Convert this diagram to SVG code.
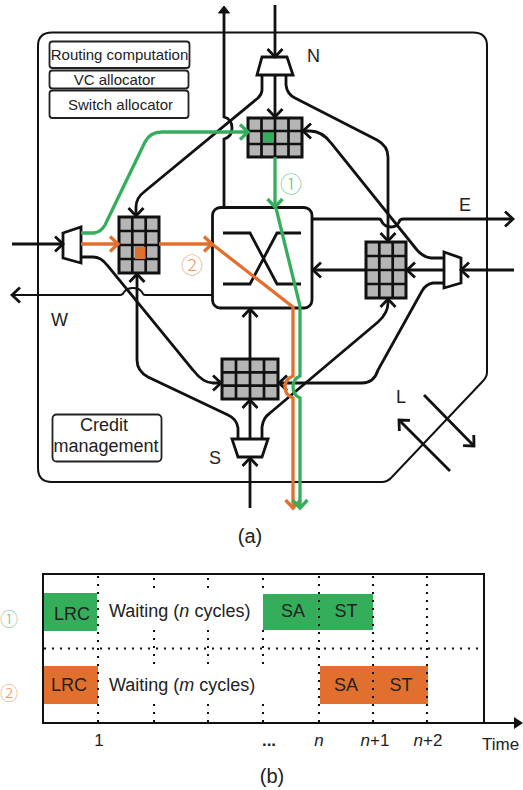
<svg xmlns="http://www.w3.org/2000/svg" width="523" height="790" viewBox="0 0 523 790">
<style>
text{font-family:"Liberation Sans",Arial,sans-serif;fill:#222}
.frame{fill:none;stroke:#111;stroke-width:2}
.box{fill:#fff;stroke:#222;stroke-width:1.8}
.grid{fill:#b5b5b5;stroke:#111;stroke-width:3}
.gl{fill:none;stroke:#111;stroke-width:2.7}
.mux{fill:#fff;stroke:#111;stroke-width:2.8;stroke-linejoin:miter}
.sw{fill:#fff;stroke:#111;stroke-width:2.8}
.k{fill:none;stroke:#111;stroke-width:2.8;marker-end:url(#ak)}
.p{fill:none;stroke:#111;stroke-width:2.8}
.g{fill:none;stroke:#35ae5c;stroke-width:3.3;marker-end:url(#ag)}
.o{fill:none;stroke:#e1702f;stroke-width:3.3;marker-end:url(#ao)}
.dot{fill:none;stroke:#111;stroke-width:2;stroke-dasharray:2 6}
.num{font-family:"Noto Sans CJK SC",sans-serif;font-size:22px;font-weight:300}
.num2{font-family:"Noto Sans CJK SC",sans-serif;font-size:18px;font-weight:300}
.lb{font-size:18px}
.t{font-size:15px}
.ax{font-size:17px}
</style>
<defs>
<marker id="ak" markerUnits="userSpaceOnUse" markerWidth="24" markerHeight="24" viewBox="-12 -12 24 24" refX="0" refY="0" orient="auto"><path d="M-8 -7.500L0 0L-8 7.500" fill="none" stroke="#111" stroke-width="2.800"/></marker>
<marker id="ag" markerUnits="userSpaceOnUse" markerWidth="24" markerHeight="24" viewBox="-12 -12 24 24" refX="0" refY="0" orient="auto"><path d="M-8 -7.500L0 0L-8 7.500" fill="none" stroke="#35ae5c" stroke-width="3.300"/></marker>
<marker id="ao" markerUnits="userSpaceOnUse" markerWidth="24" markerHeight="24" viewBox="-12 -12 24 24" refX="0" refY="0" orient="auto"><path d="M-8 -7.500L0 0L-8 7.500" fill="none" stroke="#e1702f" stroke-width="3.300"/></marker>
</defs>

<g id="router-frame"><path class="frame" d="M52 32.500H473Q487 32.500 487 46V372Q487 377 483 381L391 478Q387 482 382 482H52Q38 482 38 468V46Q38 32.500 52 32.500Z"/></g>
<g id="routing-computation"><rect class="box" x="49.500" y="41.500" width="140" height="26.500" rx="3"/><text class="t" x="119.500" y="60" text-anchor="middle">Routing computation</text></g>
<g id="vc-allocator"><rect class="box" x="49.500" y="70.500" width="139" height="18" rx="3"/><text class="t" x="114.500" y="85" text-anchor="middle">VC allocator</text></g>
<g id="switch-allocator"><rect class="box" x="49.500" y="90.500" width="139" height="27.500" rx="3"/><text class="t" x="120.500" y="110" text-anchor="middle">Switch allocator</text></g>
<g id="credit-management"><rect class="box" x="52.500" y="414.500" width="109" height="47" rx="4"/><text class="lb" x="104" y="431" text-anchor="middle">Credit</text><text class="lb" x="106" y="452" text-anchor="middle">management</text></g>

<g id="mux-n"><path class="mux" d="M262 57H287L293 75H257Z"/></g>
<g id="mux-w"><path class="mux" d="M63 233L81 227V263L63 258Z"/></g>
<g id="mux-e"><path class="mux" d="M444 252L461 258V283L444 288Z"/></g>
<g id="mux-s"><path class="mux" d="M232 439H268L262 457H238Z"/></g>

<g id="buffer-n"><rect class="grid" x="248" y="118" width="54" height="39"/><rect x="263" y="131.500" width="10" height="11" fill="#35ae5c"/><path class="gl" d="M261.500 118V157M275 118V157M288.500 118V157M248 131H302M248 144H302"/></g>
<g id="buffer-w"><rect class="grid" x="119" y="217" width="40" height="56"/><path class="gl" d="M132.300 217V273M145.700 217V273M119 231H159M119 245H159M119 259H159"/><rect x="135" y="247" width="10.500" height="12" fill="#e1702f"/></g>
<g id="buffer-e"><rect class="grid" x="366" y="242" width="40" height="56"/><path class="gl" d="M379.300 242V298M392.700 242V298M366 256H406M366 270H406M366 284H406"/></g>
<g id="buffer-s"><rect class="grid" x="222" y="359" width="56" height="40"/><path class="gl" d="M236 359V399M250 359V399M264 359V399M222 372.300H278M222 385.700H278"/></g>

<g id="crossbar"><rect class="sw" x="212.500" y="207.500" width="99.500" height="100.500" rx="8"/><path class="p" d="M223 233H250L277 284H301M223 284H250L277 233H301"/></g>

<g id="connectors">
<path class="k" d="M275 5V57"/>
<path class="k" d="M275 75V117"/>
<path class="k" d="M262 75V90Q262 94 258 98L144 192Q136 198 136 207V216"/>
<path class="k" d="M286 75V85Q287 94 295 98L377 140Q388 146 388 157V241"/>
<path class="k" d="M444 258H431Q423 257 417 250L331 143Q322 131 310 131H303"/>
<path class="k" d="M444 270H407"/>
<path class="k" d="M366 270H313"/>
<path class="k" d="M514 270H461"/>
<path class="k" d="M444 283H433Q426 284 422 291L378 370Q374 383 362 383H279"/>
<path class="k" d="M262 439V427Q263 418 270 413L378 322Q388 313 388 303V299"/>
<path class="k" d="M238 439V428Q237 419 228 415L148 377Q137 371 137 360V274"/>
<path class="k" d="M81 257H93Q101 257 107 265L193 370Q203 383 213 383H221"/>
<path class="k" d="M250 508V458"/>
<path class="k" d="M250 439V400"/>
<path class="k" d="M250 359V309"/>
<path class="k" d="M12 244H63"/>
<path class="k" d="M212 295H145Q143 295 142 292Q139 288 133 288Q127 288 124 292Q123 295 120 295H12" style="stroke-width:2"/>
<path class="k" d="M312 219H379Q381 219 382 222Q385 227 391 227Q397 227 399 222Q400 219 403 219H513"/>
<path class="p" d="M224 207V139Q232 137 232 128Q232 119 224 117V10"/>
<path d="M218.500 13L224 6L229.500 13Z" fill="#111" stroke="#111" stroke-width="1"/>
<path class="k" d="M424 395L474 446"/>
<path class="k" d="M450 471L399 420"/>
<path class="o" d="M81 244H118"/>
<path class="o" d="M159 244H212"/>
<path class="o" d="M212 244L293 307V376Q285 379 285 387Q285 395 293 398V508"/>
<path class="g" d="M81 233H94Q101 232 105 225L145 142Q150 132 162 132H248"/>
<path class="g" d="M275 157V207"/>
<path class="g" d="M276 208L300 306V376Q293 379 293 387Q293 395 300 398V508"/>
</g>

<g id="labels-a">
<text class="lb" x="307" y="62">N</text>
<text class="lb" x="459" y="211">E</text>
<text class="lb" x="51" y="326">W</text>
<text class="lb" x="209" y="464">S</text>
<text class="lb" x="396" y="403">L</text>
<text class="num" x="291" y="191.500" text-anchor="middle" style="fill:#6cc48a">①</text>
<text class="num" x="192" y="272.500" text-anchor="middle" style="fill:#ee9a6a">②</text>
<text x="250" y="543" text-anchor="middle" font-size="20">(a)</text>
</g>

<g id="timeline">
<rect x="43" y="593" width="54" height="38" fill="#35ae5c"/>
<rect x="263" y="594" width="110" height="36" fill="#35ae5c"/>
<rect x="44" y="666" width="54" height="38" fill="#e1702f"/>
<rect x="320" y="666" width="108" height="38" fill="#e1702f"/>
<path class="dot" d="M98 576V722M319 576V722M373 576V722M427 576V722M154 578V592M154 630V666M154 704V722M208 578V592M208 630V666M208 704V722M263 578V592M263 630V666M263 704V722"/>
<path class="dot" d="M44 648.500H484"/>
<rect x="43" y="574" width="441" height="149" fill="none" stroke="#111" stroke-width="2"/>
<path d="M484 723H516" fill="none" stroke="#111" stroke-width="2"/>
<path d="M514 717L523 723L514 729Z" fill="#111"/>
<text class="lb" x="72" y="620" text-anchor="middle">LRC</text>
<text class="lb" x="69" y="691" text-anchor="middle">LRC</text>
<text class="lb" x="109" y="617">Waiting (<tspan font-style="italic">n</tspan> cycles)</text>
<text class="lb" x="109" y="691">Waiting (<tspan font-style="italic">m</tspan> cycles)</text>
<text class="lb" x="293" y="617" text-anchor="middle">SA</text>
<text class="lb" x="346" y="617" text-anchor="middle">ST</text>
<text class="lb" x="346" y="691" text-anchor="middle">SA</text>
<text class="lb" x="401" y="691" text-anchor="middle">ST</text>
<text class="num2" x="0" y="626" style="fill:#6cc48a">①</text>
<text class="num2" x="0" y="700" style="fill:#ee9a6a">②</text>
<text class="ax" x="99" y="746" text-anchor="middle">1</text>
<text class="ax" x="269" y="746" text-anchor="middle" font-weight="bold">...</text>
<text class="ax" x="319" y="746" text-anchor="middle" font-style="italic">n</text>
<text class="ax" x="375" y="746" text-anchor="middle"><tspan font-style="italic">n</tspan>+1</text>
<text class="ax" x="428" y="746" text-anchor="middle"><tspan font-style="italic">n</tspan>+2</text>
<text class="ax" x="482" y="750">Time</text>
<text x="272" y="783" text-anchor="middle" font-size="20">(b)</text>
</g>
</svg>
